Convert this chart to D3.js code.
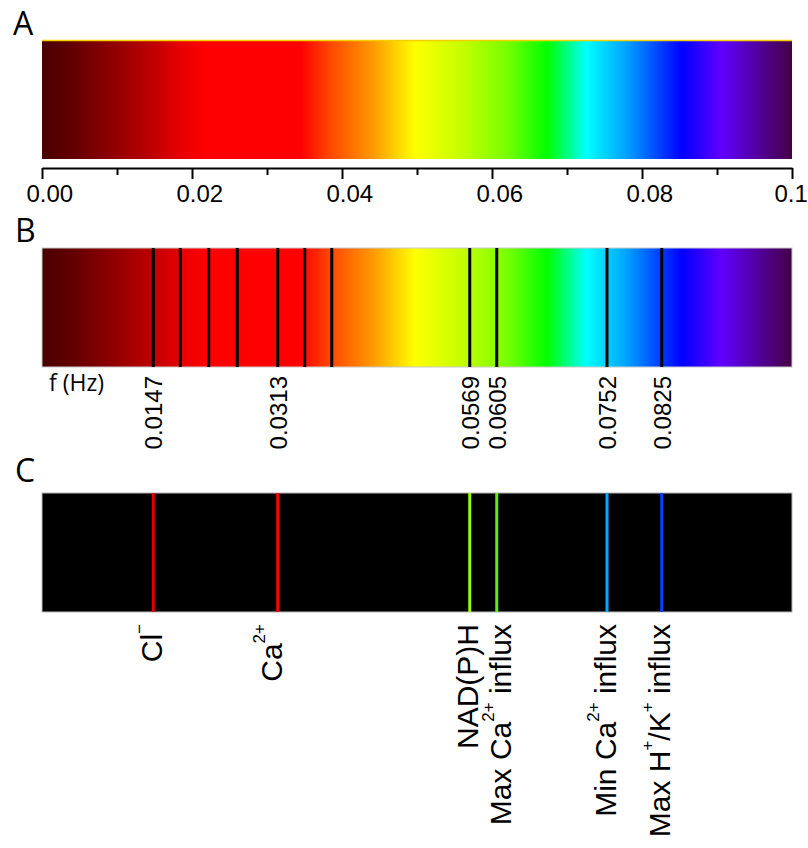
<!DOCTYPE html>
<html>
<head>
<meta charset="utf-8">
<script src="https://cdn.jsdelivr.net/npm/d3@7"></script>
<style>
  body { margin: 0; background: #fff; }
  svg { display: block; }
</style>
</head>
<body>
<svg id="chart"></svg>
<script>
// frequency axis of panel A
const freqTicks = [0, 0.02, 0.04, 0.06, 0.08, 0.1];
const tickLabels = ["0.00", "0.02", "0.04", "0.06", "0.08", "0.1"];
const minorTicks = [0.01, 0.03, 0.05, 0.07, 0.09];

// colour spectrum (frequency -> colour)
const spectrumFreqs = [0, 0.005, 0.015, 0.0185, 0.022, 0.0345, 0.038, 0.044, 0.0497, 0.056, 0.062, 0.0674, 0.0726, 0.078, 0.0853, 0.0905, 0.1];
const spectrumColors = ["#480000", "#6a0000", "#c00000", "#e80000", "#ff0000", "#ff0000", "#ff4000", "#ff9800", "#ffff00", "#c4ff00", "#78ff00", "#00ff00", "#00ffff", "#00a0ff", "#0000ff", "#6000ff", "#440044"];

// panel B: peak frequencies (Hz), only some are labelled
const peakFreqs = [0.0147, 0.0183, 0.0221, 0.0259, 0.0313, 0.0349, 0.0385, 0.0569, 0.0605, 0.0752, 0.0825];
const peakLabels = ["0.0147", "", "", "", "0.0313", "", "", "0.0569", "0.0605", "0.0752", "0.0825"];

// panel C: assigned processes
const markerFreqs = [0.0147, 0.0313, 0.0569, 0.0605, 0.0752, 0.0825];
const markerNames = [
  [["Cl"], ["\u2212", "sup"]],
  [["Ca"], ["2+", "sup"]],
  [["NAD(P)H"]],
  [["Max Ca"], ["2+", "sup"], [" influx"]],
  [["Min Ca"], ["2+", "sup"], [" influx"]],
  [["Max H"], ["+", "sup"], ["/K"], ["+", "sup"], [" influx"]]
];
const markerColors = ["#e60000", "#ff0000", "#99ff00", "#66ee00", "#00aaff", "#0044ff"];
const markerNudge = [-1.5, -6, -2.5, 3.5, -1.5, -2];

const W = 808, H = 848;
const svg = d3.select("#chart").attr("width", W).attr("height", H);

const x = d3.scaleLinear().domain([0, 0.1]).range([42, 792]);
const color = d3.scaleLinear().domain(spectrumFreqs).range(spectrumColors);

const arial = "'Liberation Sans', Arial, sans-serif";
const segoe = "'Open Sans', 'Noto Sans', sans-serif";

// gradient fill
const grad = svg.append("defs").append("linearGradient")
  .attr("id", "spectrum")
  .attr("gradientUnits", "userSpaceOnUse")
  .attr("x1", x(0)).attr("x2", x(0.1))
  .attr("y1", 0).attr("y2", 0);
grad.selectAll("stop")
  .data(spectrumFreqs)
  .join("stop")
  .attr("offset", (d) => d / 0.1)
  .attr("stop-color", (d) => color(d));

// panel letters
svg.selectAll("text.panel")
  .data([["A", 13, 35], ["B", 15, 242], ["C", 15, 482]])
  .join("text")
  .attr("class", "panel")
  .attr("x", (d) => d[1])
  .attr("y", (d) => d[2])
  .style("font-family", segoe)
  .style("font-size", "32px")
  .text((d) => d[0]);

// ---- A ----
const barA = { y: 41, h: 118 };
svg.append("rect")
  .attr("x", x(0)).attr("y", barA.y)
  .attr("width", x(0.1) - x(0)).attr("height", barA.h)
  .attr("fill", "url(#spectrum)");
svg.append("line")
  .attr("x1", x(0)).attr("x2", x(0.1))
  .attr("y1", barA.y - 0.5).attr("y2", barA.y - 0.5)
  .attr("stroke", "#f2d000").attr("stroke-width", 1.5);

const axisY = 168;
const gAxis = svg.append("g")
  .attr("transform", `translate(0,${axisY})`)
  .call(d3.axisBottom(x).tickValues(freqTicks).tickSize(11).tickSizeOuter(0)
    .tickFormat((d, i) => tickLabels[i]));
gAxis.select(".domain").attr("stroke", "#000").attr("stroke-width", 2);
gAxis.selectAll(".tick line").attr("stroke", "#000").attr("stroke-width", 2);
gAxis.selectAll(".tick text")
  .attr("y", 34).attr("dy", null)
  .attr("text-anchor", "start").attr("x", (d, i) => (i === freqTicks.length - 1 ? -18 : -16))
  .attr("fill", "#000")
  .style("font-family", arial)
  .style("font-size", "24px");

const gMinor = svg.append("g")
  .attr("transform", `translate(0,${axisY})`)
  .call(d3.axisBottom(x).tickValues(minorTicks).tickSize(7).tickFormat(""));
gMinor.select(".domain").remove();
gMinor.selectAll(".tick line").attr("stroke", "#000").attr("stroke-width", 2);

// ---- B ----
const barB = { y: 248, h: 119 };
svg.append("rect")
  .attr("x", x(0)).attr("y", barB.y)
  .attr("width", x(0.1) - x(0)).attr("height", barB.h)
  .attr("fill", "url(#spectrum)")
  .attr("stroke", "#c8c8c8").attr("stroke-width", 1);

svg.append("g")
  .selectAll("line")
  .data(peakFreqs)
  .join("line")
  .attr("x1", (d) => x(d) + 1).attr("x2", (d) => x(d) + 1)
  .attr("y1", barB.y).attr("y2", barB.y + barB.h)
  .attr("stroke", "#000").attr("stroke-width", 3);

svg.append("g")
  .selectAll("text")
  .data(peakFreqs.map((f, i) => ({ f, label: peakLabels[i] })).filter((d) => d.label))
  .join("text")
  .attr("transform", (d) => `translate(${x(d.f) + 1.5},376) rotate(-90)`)
  .attr("text-anchor", "end")
  .attr("dy", "0.35em")
  .style("font-family", arial)
  .style("font-size", "24px")
  .text((d) => d.label);

svg.append("text")
  .attr("x", 49).attr("y", 391)
  .style("font-family", segoe)
  .style("font-size", "23px")
  .text("f (Hz)");

// ---- C ----
const barC = { y: 493, h: 119 };
svg.append("rect")
  .attr("x", x(0)).attr("y", barC.y)
  .attr("width", x(0.1) - x(0)).attr("height", barC.h)
  .attr("fill", "#000")
  .attr("stroke", "#b8b8b8").attr("stroke-width", 1);

svg.append("g")
  .selectAll("line")
  .data(markerFreqs)
  .join("line")
  .attr("x1", (d) => x(d) + 1).attr("x2", (d) => x(d) + 1)
  .attr("y1", barC.y).attr("y2", barC.y + barC.h)
  .attr("stroke", (d, i) => markerColors[i]).attr("stroke-width", 3);

const labelsC = svg.append("g")
  .selectAll("text")
  .data(markerFreqs)
  .join("text")
  .attr("transform", (d, i) => `translate(${x(d) + 1 + markerNudge[i]},624) rotate(-90)`)
  .attr("text-anchor", "end")
  .attr("dy", "0.35em")
  .style("font-family", arial)
  .style("font-size", "30px");

labelsC.each(function (d, i) {
  const t = d3.select(this);
  let raised = false;
  markerNames[i].forEach(([txt, kind]) => {
    const sp = t.append("tspan").text(txt);
    if (kind === "sup") {
      sp.style("font-size", "17px").attr("dy", raised ? 0 : -17);
      raised = true;
    } else if (raised) {
      sp.attr("dy", 17);
      raised = false;
    }
  });
});
</script>
</body>
</html>
